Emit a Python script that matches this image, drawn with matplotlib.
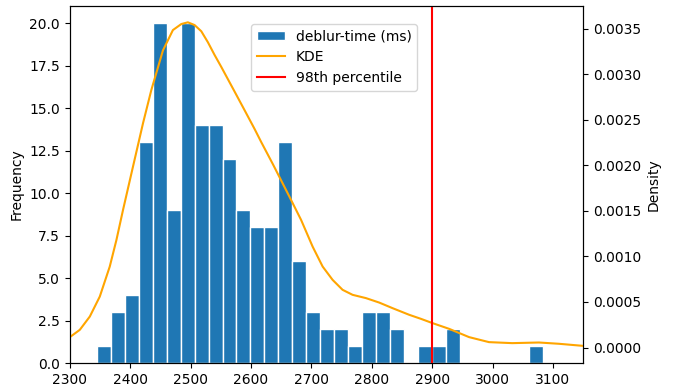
import matplotlib
matplotlib.use("Agg")
import matplotlib.pyplot as plt
import numpy as np

# histogram of deblur times (counts per bin), 32 equal bins
bin_lo, bin_hi = 2345.0, 3084.0
counts = [1, 3, 4, 13, 20, 9, 20, 14, 14, 12, 9, 8, 8, 13, 6, 3,
          2, 2, 1, 3, 3, 2, 0, 1, 1, 2, 0, 0, 0, 0, 0, 1]

# KDE curve
kde_x = [2300.0, 2316.5, 2333.1, 2349.6, 2366.1, 2377.2, 2388.1, 2404.6,
         2421.2, 2435.0, 2454.2, 2470.7, 2484.6, 2495.5, 2506.6, 2517.7,
         2528.6, 2539.7, 2550.7, 2561.7, 2572.7, 2589.3, 2605.8, 2616.9,
         2636.0, 2663.6, 2683.0, 2702.1,
         2718.7, 2735.2, 2751.7, 2768.3, 2790.4, 2812.4, 2834.4, 2862.0,
         2881.3, 2900.5, 2928.1, 2961.2, 2994.2, 3032.7, 3076.9, 3109.9,
         3148.4]
kde_y = [0.000114, 0.000194, 0.000340, 0.000559, 0.000888, 0.001181,
         0.001510, 0.001985, 0.002461, 0.002826, 0.003260, 0.003483,
         0.003549, 0.003568, 0.003538, 0.003470, 0.003350, 0.003210,
         0.003080, 0.002945, 0.002810, 0.002605, 0.002400, 0.002255,
         0.002015, 0.001656, 0.001400, 0.001107,
         0.000888, 0.000742, 0.000633, 0.000578, 0.000542, 0.000493,
         0.000432, 0.000359, 0.000315, 0.000268, 0.000205, 0.000114,
         0.000059, 0.000048, 0.000055, 0.000041, 0.000019]

p98 = 2900.0

edges = np.linspace(bin_lo, bin_hi, len(counts) + 1)

fig, ax = plt.subplots(figsize=(6.78, 3.87), dpi=100)
fig.subplots_adjust(left=0.103, right=0.86, top=0.984, bottom=0.062)

bars = ax.bar(edges[:-1], counts, width=np.diff(edges), align="edge",
              color="#1f77b4", edgecolor="white", linewidth=1,
              label="deblur-time (ms)")
ax.set_ylabel("Frequency")
ax.set_xlim(2300, 3150)
ax.set_ylim(0, 21)

ax2 = ax.twinx()
kde_line, = ax2.plot(kde_x, kde_y, color="orange", lw=1.5, label="KDE")
p_line = ax2.axvline(p98, color="red", lw=1.5, label="98th percentile")
ax2.set_ylabel("Density")
ax2.set_ylim(-0.00017, 0.003745)
ax2.set_xlim(2300, 3150)

ax2.legend([bars, kde_line, p_line],
           ["deblur-time (ms)", "KDE", "98th percentile"],
           loc="upper center", bbox_to_anchor=(0.515, 0.97))

fig.savefig("out.png", dpi=100)
